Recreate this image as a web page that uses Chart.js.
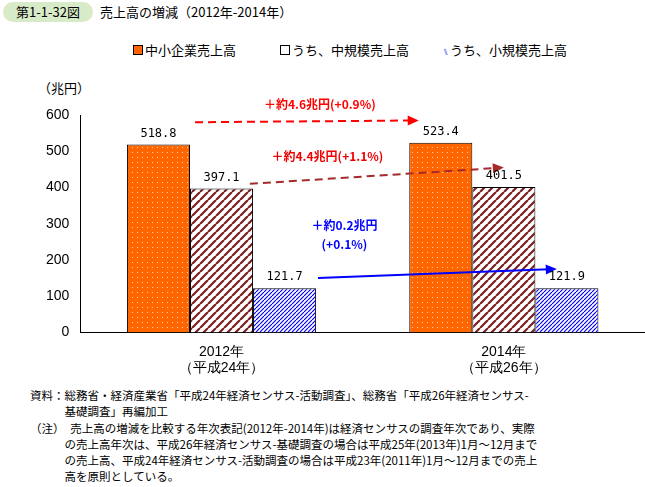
<!DOCTYPE html><html><head><meta charset="utf-8">
<script src="https://cdn.jsdelivr.net/npm/chart.js@4"></script>
<style>
body{margin:0;width:645px;height:487px;background:#fff;font-family:"Noto Sans CJK JP","Noto Sans",sans-serif;position:relative;overflow:hidden}
.hdr{position:absolute;left:3px;top:2px;width:90px;height:20px;background:#d8ebc9;border-radius:10px;font-size:13px;text-align:center;line-height:20px}
.ttl{position:absolute;left:100px;top:2px;font-size:13px;line-height:20px}
.leg{position:absolute;top:40px;font-size:13px}
.sw{display:inline-block;width:8px;height:8px;border:1px solid #000;margin-right:2px;vertical-align:0}
#wrap{position:absolute;left:0;top:80px;width:645px;height:300px}
.unit{position:absolute;left:38px;top:78px;font-size:13px}
.note{position:absolute;left:30px;font-size:11.5px;line-height:16px;color:#000}
</style></head><body>
<div class="hdr">第1-1-32図</div><div class="ttl">売上高の増減（2012年-2014年）</div>
<div class="leg" style="left:133px"><span class="sw" style="background:#f60"></span>中小企業売上高</div>
<div class="leg" style="left:280px"><span class="sw" style="background:#fff"></span>うち、中規模売上高</div>
<div class="leg" style="left:443px"><span class="sw" style="background:#fff;border:none;color:#00f;font-size:9px;width:auto">⑊</span>うち、小規模売上高</div>
<div class="unit">（兆円）</div>
<div id="wrap"><canvas id="c"></canvas></div>
<div class="note" style="top:387px">資料：総務省・経済産業省「平成24年経済センサス-活動調査」、総務省「平成26年経済センサス-<br>　　　基礎調査」再編加工</div>
<div class="note" style="top:420px">（注）　売上高の増減を比較する年次表記(2012年-2014年)は経済センサスの調査年次であり、実際<br>　　　の売上高年次は、平成26年経済センサス-基礎調査の場合は平成25年(2013年)1月～12月まで<br>　　　の売上高、平成24年経済センサス-活動調査の場合は平成23年(2011年)1月～12月までの売上<br>　　　高を原則としている。</div>
<script>
const categories=[["2012年","（平成24年）"],["2014年","（平成26年）"]];
const seriesNames=["中小企業売上高","うち、中規模売上高","うち、小規模売上高"];
const total=[518.8,523.4];
const medium=[397.1,401.5];
const small=[121.7,121.9];
const changes=["＋約4.6兆円(+0.9%)","＋約4.4兆円(+1.1%)","＋約0.2兆円","(+0.1%)"];
function pat(kind){const c=document.createElement('canvas');const x=c.getContext('2d');
 if(kind==0){c.width=c.height=5;x.fillStyle='#f60';x.fillRect(0,0,5,5);x.fillStyle='#ffd0b0';x.fillRect(2,2,1,1);}
 else if(kind==1){c.width=c.height=8;x.fillStyle='#fff';x.fillRect(0,0,8,8);x.strokeStyle='#7a1f1f';x.lineWidth=2.2;
  x.beginPath();for(let i=-8;i<=16;i+=8){x.moveTo(i,8);x.lineTo(i+8,0);}x.stroke();}
 else{c.width=c.height=4;x.fillStyle='#fff';x.fillRect(0,0,4,4);x.strokeStyle='#0000ff';x.lineWidth=1.2;
  x.beginPath();for(let i=-4;i<=8;i+=4){x.moveTo(i,4);x.lineTo(i+4,0);}x.stroke();}
 return x.createPattern(c,'repeat');}
const arrows=[{from:[0,-0.14,580],to:[1,-0.45,585],color:'#f00',dash:[8,5]},
 {from:[0,0.15,410],to:[1,0.0,455],color:'#a52a2a',dash:[8,5]},
 {from:[0,0.51,150],to:[1,0.28,175],color:'#0000ff',dash:[]}];
const texts=[{t:changes[0],p:[0,0.52,628],c:'#f00'},{t:changes[1],p:[0,0.56,486],c:'#e00'},
 {t:changes[2],p:[0,0.65,295],c:'#0000ff'},{t:changes[3],p:[0,0.65,243],c:'#0000ff'}];
const ann={id:'ann',afterDatasetsDraw(ch){const c=ch.ctx,xs=ch.scales.x,ys=ch.scales.y;const gw=xs.width/2*0.67;
 const P=(a)=>[xs.getPixelForValue(a[0])+a[1]*gw,ys.getPixelForValue(a[2])];
 c.save();
 arrows.forEach(a=>{const[f1,f2]=P(a.from),[t1,t2]=P(a.to);c.strokeStyle=a.color;c.fillStyle=a.color;c.lineWidth=2;c.setLineDash(a.dash);
  const ang=Math.atan2(t2-f2,t1-f1);
  c.beginPath();c.moveTo(f1,f2);c.lineTo(t1-8*Math.cos(ang),t2-8*Math.sin(ang));c.stroke();c.setLineDash([]);
  c.beginPath();c.moveTo(t1,t2);c.lineTo(t1-11*Math.cos(ang)+5*Math.sin(ang),t2-11*Math.sin(ang)-5*Math.cos(ang));
  c.lineTo(t1-11*Math.cos(ang)-5*Math.sin(ang),t2-11*Math.sin(ang)+5*Math.cos(ang));c.fill();});
 c.font='bold 12px "Noto Sans CJK JP"';c.textAlign='center';c.textBaseline='middle';
 texts.forEach(t=>{const[x,y]=P(t.p);c.fillStyle=t.c;c.fillText(t.t,x,y);});
 c.fillStyle='#000';c.font='12px "DejaVu Sans Mono","Liberation Mono",monospace';c.textBaseline='bottom';
 ch.data.datasets.forEach((d,i)=>{ch.getDatasetMeta(i).data.forEach((el,j)=>{c.fillText(d.data[j].toFixed(1),el.x,el.y-5);});});
 c.restore();}};
new Chart(document.getElementById('c'),{type:'bar',
 data:{labels:categories,datasets:[total,medium,small].map((d,i)=>({label:seriesNames[i],data:d,backgroundColor:pat(i),borderColor:'#000',borderWidth:1,barPercentage:1,categoryPercentage:0.67}))},
 options:{responsive:true,maintainAspectRatio:false,animation:false,layout:{padding:{top:35,right:0,left:43}},
 plugins:{legend:{display:false},tooltip:{enabled:false}},
 scales:{y:{min:0,max:600,ticks:{stepSize:100,color:'#000',font:{size:14}},grid:{display:false},border:{color:'#000'}},
 x:{ticks:{color:'#000',font:{size:14}},grid:{display:false},border:{color:'#000'}}}},plugins:[ann]});
</script></body></html>
